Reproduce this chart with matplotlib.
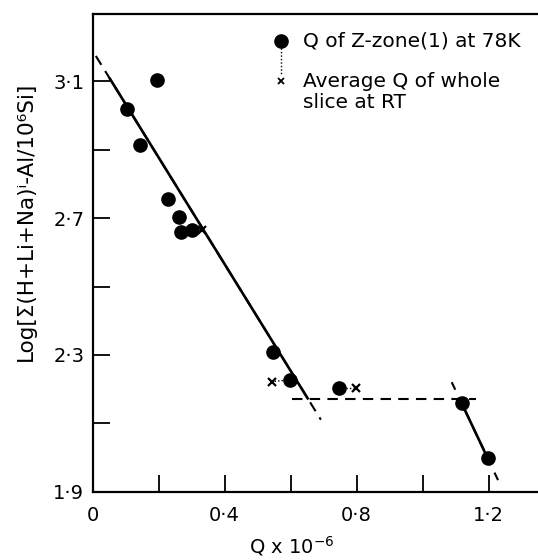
import numpy as np
import matplotlib
matplotlib.use('Agg')
import matplotlib.pyplot as plt

# Q of Z-zone(1) at 78K
q_zone = [0.104, 0.144, 0.196, 0.230, 0.262, 0.268, 0.301, 0.548, 0.598, 0.747, 1.119, 1.198]
log_zone = [3.018, 2.913, 3.104, 2.756, 2.702, 2.660, 2.665, 2.308, 2.227, 2.204, 2.158, 1.998]

# average Q of whole slice at RT, and the zone point each one belongs to
q_rt = [0.333, 0.543, 0.798]
log_rt = [2.665, 2.222, 2.204]
rt_pair = [6, 8, 9]

# straight-line fits: intercept, slope, dashed extent, solid extent
fit1 = (3.19, -1.56, (0.010, 0.692), (0.051, 0.654))
fit_flat = 2.171
flat_range = (0.605, 1.162)
fit3_pt = (1.119, 2.158)
fit3_slope = -2.04
fit3_dash = (1.0885, 1.232)
fit3_solid = (1.119, 1.198)

xticks = [0, 0.4, 0.8, 1.2]
xtick_labels = ['0', '0·4', '0·8', '1·2']
yticks = [1.9, 2.3, 2.7, 3.1]
ytick_labels = ['1·9', '2·3', '2·7', '3·1']

fig = plt.figure(figsize=(5.38, 5.60), dpi=100)
ax = fig.add_axes([0.172, 0.122, 0.828, 0.8535])
ax.set_xlim(0, 1.35)
ax.set_ylim(1.9, 3.298)

k = 'black'

# first line
a, b, dash, solid = fit1
xd = np.array(dash)
xs = np.array(solid)
ax.plot(xd, a + b * xd, color=k, lw=1.5, ls=(0, (5, 3.5)))
ax.plot(xs, a + b * xs, color=k, lw=1.9, solid_capstyle='butt')

# plateau
ax.plot(flat_range, [fit_flat, fit_flat], color=k, lw=1.5, ls=(0, (5, 3.5)))

# last line
x3d = np.array(fit3_dash)
x3s = np.array(fit3_solid)
ax.plot(x3d, fit3_pt[1] + fit3_slope * (x3d - fit3_pt[0]), color=k, lw=1.5, ls=(0, (4, 4)))
ax.plot(x3s, fit3_pt[1] + fit3_slope * (x3s - fit3_pt[0]), color=k, lw=1.9)

# dotted ties between zone points and RT averages
for i, (qx, ly) in zip(rt_pair, zip(q_rt, log_rt)):
    ax.plot([q_zone[i], qx], [log_zone[i], ly], color=k, lw=1.0, ls=(0, (1, 1.5)))

ax.plot(q_zone, log_zone, 'o', color=k, ms=9.5, zorder=5)
ax.plot(q_rt, log_rt, 'x', color=k, ms=6, mew=1.6, zorder=5)

# key
ax.plot([0.4224, 0.4224], [0.943, 0.872], transform=ax.transAxes, color=k, lw=1.0, ls=(0, (1, 1.5)))
ax.plot([0.4224], [0.943], 'o', color=k, ms=9.5, transform=ax.transAxes)
ax.plot([0.4224], [0.859], 'x', color=k, ms=5, mew=1.3, transform=ax.transAxes)
ax.text(0.4725, 0.943, 'Q of Z-zone(1) at 78K', transform=ax.transAxes, fontsize=14.5, va='center')
ax.text(0.4725, 0.859, 'Average Q of whole', transform=ax.transAxes, fontsize=14.5, va='center')
ax.text(0.4725, 0.814, 'slice at RT', transform=ax.transAxes, fontsize=14.5, va='center')

ax.set_xticks(xticks)
ax.set_xticklabels(xtick_labels)
ax.set_xticks([0.2, 0.6, 1.0], minor=True)
ax.set_yticks(yticks)
ax.set_yticklabels(ytick_labels)
ax.set_yticks([2.1, 2.5, 2.9], minor=True)
ax.tick_params(which='both', direction='in', length=12.5, width=1.3, labelsize=14)
ax.tick_params(axis='x', which='both', pad=10)
ax.tick_params(axis='y', which='both', pad=6)

for s in ['left', 'bottom', 'top']:
    ax.spines[s].set_linewidth(1.6)
ax.spines['right'].set_visible(False)

fig.text(26 / 538, 1 - 221 / 560, 'Log[Σ(H+Li+Na)ⁱ-Al/10⁶Si]',
         rotation=90, ha='center', va='center', fontsize=15.5)
fig.text(292 / 538, 1 - 546 / 560, r'Q x 10$^{-6}$', ha='center', va='center', fontsize=14)

fig.savefig('out.png', dpi=100)
